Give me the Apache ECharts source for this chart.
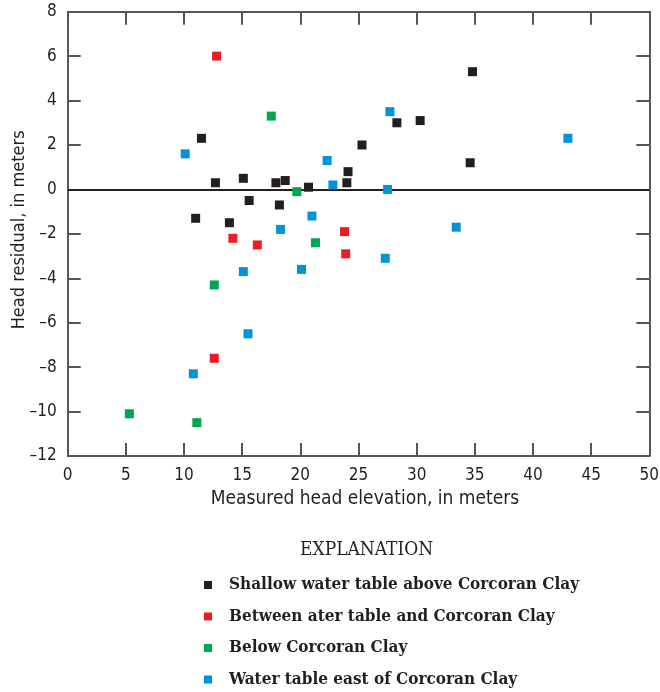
<!DOCTYPE html>
<html>
<head>
<meta charset="utf-8">
<script src="https://cdn.jsdelivr.net/npm/echarts@6/dist/echarts.min.js"></script>
<style>
  html, body { margin: 0; padding: 0; background: #fff; }
  #chart { width: 660px; height: 692px; }
</style>
</head>
<body>
<div id="chart"></div>
<script>
// Residuals of simulated head versus measured head, by aquifer zone: [measured (m), residual (m)]
const shallowAbove = [
  [11.5, 2.3], [12.7, 0.3], [15.1, 0.5], [17.9, 0.3], [18.7, 0.4], [20.7, 0.1],
  [15.6, -0.5], [18.2, -0.7], [11.0, -1.3], [13.9, -1.5], [34.8, 5.3], [28.3, 3.0],
  [30.3, 3.1], [25.3, 2.0], [34.6, 1.2], [24.1, 0.8], [24.0, 0.3]
];
const betweenLayers = [
  [12.8, 6.0], [14.2, -2.2], [16.3, -2.5], [12.6, -7.6], [23.8, -1.9], [23.9, -2.9]
];
const belowClay = [
  [17.5, 3.3], [19.7, -0.1], [21.3, -2.4], [12.6, -4.3], [5.3, -10.1], [11.1, -10.5]
];
const eastOfClay = [
  [10.1, 1.6], [22.3, 1.3], [21.0, -1.2], [18.3, -1.8], [15.1, -3.7], [20.1, -3.6],
  [15.5, -6.5], [10.8, -8.3], [27.7, 3.5], [43.0, 2.3], [22.8, 0.2], [27.5, 0.0],
  [33.4, -1.7], [27.3, -3.1]
];

const seriesNames = [
  'Shallow water table above Corcoran Clay',
  'Between ater table and Corcoran Clay',
  'Below Corcoran Clay',
  'Water table east of Corcoran Clay'
];
const seriesColors = ['#231f20', '#ed1c24', '#00a651', '#0093d8'];
const seriesData = [shallowAbove, betweenLayers, belowClay, eastOfClay];

const xTicks = { min: 0, max: 50, interval: 5 };
const yTicks = { min: -12, max: 8, interval: 2 };

const condensed = "'Liberation Sans Narrow', 'DejaVu Sans Condensed', 'Roboto', sans-serif";
const serif = "'DejaVu Serif Condensed', 'DejaVu Serif', serif";
const axisDark = '#231f20';
const tickGray = '#555555';

const chart = echarts.init(document.getElementById('chart'), null, { renderer: 'canvas' });

const minus = v => String(v).replace('-', '\u2013');

chart.setOption({
  animation: false,
  backgroundColor: '#ffffff',
  title: {
    text: 'EXPLANATION',
    left: 300,
    top: 541,
    padding: 0,
    textStyle: { fontFamily: serif, fontSize: 19, fontWeight: 'normal', color: axisDark }
  },
  legend: {
    orient: 'vertical',
    left: 204,
    top: 576,
    padding: 0,
    height: 116,
    icon: 'rect',
    itemWidth: 8,
    itemHeight: 8,
    itemGap: 13.5,
    selectedMode: false,
    data: seriesNames,
    textStyle: {
      fontFamily: serif, fontSize: 17, fontWeight: 'bold', color: axisDark,
      lineHeight: 18,
      padding: [0, 0, 0, 12]
    }
  },
  grid: { left: 67.7, right: 10.7, top: 11.7, bottom: 236, outerBoundsMode: 'none', containLabel: false },
  xAxis: [
    {
      type: 'value', position: 'bottom', ...xTicks,
      name: 'Measured head elevation, in meters',
      nameLocation: 'middle', nameGap: 34, nameMoveOverlap: false,
      nameTextStyle: { fontFamily: condensed, fontSize: 19, color: axisDark, padding: [0, 0, 0, 13] },
      axisLine: { show: true, onZero: false, lineStyle: { color: axisDark, width: 1.5 } },
      axisTick: { show: true, inside: true, length: 13, lineStyle: { color: tickGray, width: 2 } },
      axisLabel: { fontFamily: condensed, fontSize: 17, color: axisDark, margin: 11 },
      splitLine: { show: false }
    },
    {
      type: 'value', position: 'top', ...xTicks,
      axisLine: { show: true, onZero: false, lineStyle: { color: axisDark, width: 1.5 } },
      axisTick: { show: true, inside: true, length: 13, lineStyle: { color: tickGray, width: 2 } },
      axisLabel: { show: false },
      splitLine: { show: false }
    }
  ],
  yAxis: [
    {
      type: 'value', position: 'left', ...yTicks,
      name: 'Head residual, in meters',
      nameLocation: 'middle', nameGap: 39, nameMoveOverlap: false,
      nameTextStyle: { fontFamily: condensed, fontSize: 18, color: axisDark, padding: [0, 0, 0, 8] },
      axisLine: { show: true, onZero: false, lineStyle: { color: axisDark, width: 1.5 } },
      axisTick: { show: true, inside: true, length: 13, lineStyle: { color: tickGray, width: 2 } },
      axisLabel: { fontFamily: condensed, fontSize: 17, color: axisDark, margin: 11, formatter: minus },
      splitLine: { show: false }
    },
    {
      type: 'value', position: 'right', ...yTicks,
      axisLine: { show: true, onZero: false, lineStyle: { color: axisDark, width: 1.5 } },
      axisTick: { show: true, inside: true, length: 13, lineStyle: { color: tickGray, width: 2 } },
      axisLabel: { show: false },
      splitLine: { show: false }
    }
  ],
  series: seriesNames.map((name, i) => ({
    name,
    type: 'scatter',
    data: seriesData[i],
    symbol: 'rect',
    symbolSize: 9,
    itemStyle: { color: seriesColors[i], opacity: 1 },
    z: 3,
    markLine: i === 0 ? {
      silent: true,
      symbol: ['none', 'none'],
      label: { show: false },
      lineStyle: { color: axisDark, width: 2, type: 'solid' },
      data: [{ yAxis: 0 }],
      z: 2
    } : undefined
  }))
});
</script>
</body>
</html>
